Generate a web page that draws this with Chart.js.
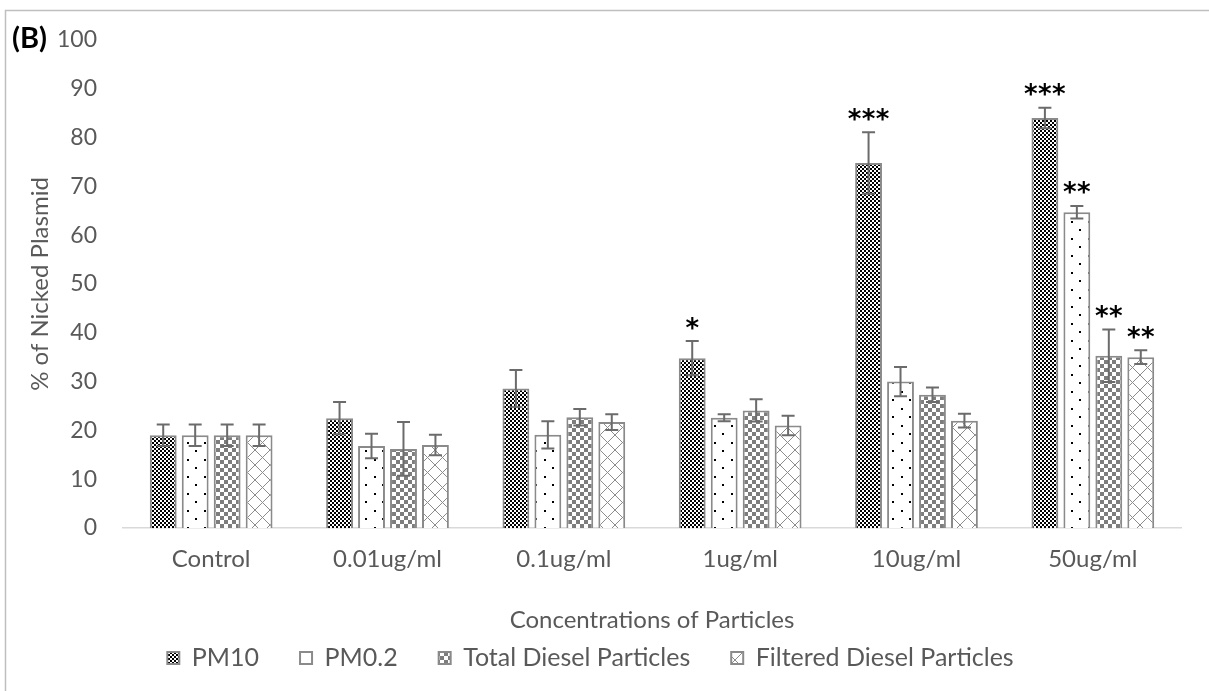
<!DOCTYPE html>
<html>
<head>
<meta charset="utf-8">
<script src="https://cdn.jsdelivr.net/npm/chart.js"></script>
<style>
  body { margin: 0; background: #fff; }
</style>
</head>
<body>
<canvas id="myChart" width="1209" height="691"></canvas>
<script>
// values
const categories = ['Control', '0.01ug/ml', '0.1ug/ml', '1ug/ml', '10ug/ml', '50ug/ml'];
const yTicks = [0, 10, 20, 30, 40, 50, 60, 70, 80, 90, 100];

const pm10 = [19, 22.5, 28.6, 34.8, 74.8, 84];
const pm10Err = [2.2, 3.3, 3.8, 3.5, 6.3, 2.1];
const pm10Stars = ['', '', '', '*', '***', '***'];

const pm02 = [19, 16.8, 19.1, 22.6, 30, 64.7];
const pm02Err = [2.2, 2.5, 2.8, 0.7, 3, 1.3];
const pm02Stars = ['', '', '', '', '', '**'];

const totalDiesel = [19, 16.2, 22.7, 24.1, 27.3, 35.3];
const totalDieselErr = [2.2, 5.5, 1.7, 2.3, 1.5, 5.4];
const totalDieselStars = ['', '', '', '', '', '**'];

const filteredDiesel = [19, 17, 21.7, 21, 22, 35];
const filteredDieselErr = [2.2, 2.1, 1.6, 2, 1.4, 1.4];
const filteredDieselStars = ['', '', '', '', '', '**'];

const textColor = '#595959';
const font = { family: 'Lato', size: 24 };
const tickFont = { family: 'Lato', size: 23 };
const legendFont = { family: 'Lato', size: 25 };

const ctx = document.getElementById('myChart').getContext('2d');

// fill patterns
function pattern(w, h, draw) {
  const c = document.createElement('canvas');
  c.width = w; c.height = h;
  const g = c.getContext('2d');
  g.fillStyle = '#fff';
  g.fillRect(0, 0, w, h);
  draw(g);
  return ctx.createPattern(c, 'repeat');
}

const checkerDark = pattern(4, 4, g => {
  g.fillStyle = '#000';
  g.fillRect(2, 0, 2, 2);
  g.fillRect(0, 2, 2, 2);
});
const dots = pattern(17, 17, g => {
  g.fillStyle = '#000';
  g.fillRect(0, 0, 2, 2);
  g.fillRect(8, 8, 2, 2);
});
const checkerGray = pattern(8, 8, g => {
  g.fillStyle = '#7d7d7d';
  g.fillRect(0, 0, 4, 4);
  g.fillRect(4, 4, 4, 4);
});
const diamonds = pattern(15, 15, g => {
  g.strokeStyle = '#8c8c8c';
  g.lineWidth = 1;
  g.beginPath();
  g.moveTo(0, 0); g.lineTo(15, 15);
  g.moveTo(15, 0); g.lineTo(0, 15);
  g.stroke();
});

// error bars + significance stars
const errorBars = {
  id: 'errorBars',
  afterDatasetsDraw(chart) {
    const c = chart.ctx, y = chart.scales.y;
    c.save();
    chart.data.datasets.forEach((ds, i) => {
      chart.getDatasetMeta(i).data.forEach((bar, j) => {
        const v = ds.data[j], e = ds.errors[j];
        const top = y.getPixelForValue(v + e), bot = y.getPixelForValue(v - e);
        c.strokeStyle = '#6b6b6b';
        c.lineWidth = 2;
        c.beginPath();
        c.moveTo(bar.x, top); c.lineTo(bar.x, bot);
        c.moveTo(bar.x - 6.5, top); c.lineTo(bar.x + 6.5, top);
        c.moveTo(bar.x - 6.5, bot); c.lineTo(bar.x + 6.5, bot);
        c.stroke();

        const s = ds.stars[j];
        if (s) {
          c.fillStyle = '#000';
          c.font = 'bold 26px "DejaVu Sans"';
          c.textAlign = 'center';
          c.textBaseline = 'alphabetic';
          const m = c.measureText('*');
          const mid = (m.actualBoundingBoxAscent - m.actualBoundingBoxDescent) / 2;
          const step = 14;
          const x0 = bar.x - (s.length - 1) * step / 2;
          for (let k = 0; k < s.length; k++) {
            c.fillText('*', x0 + k * step, top - 18 + mid);
          }
        }
      });
    });
    c.restore();
  }
};

const frame = {
  id: 'frame',
  afterDraw(chart) {
    const c = chart.ctx;
    c.save();
    c.strokeStyle = '#bfbfbf';
    c.lineWidth = 1.5;
    c.beginPath();
    c.moveTo(5.5, 691); c.lineTo(5.5, 10.5); c.lineTo(1209, 10.5);
    c.stroke();
    c.fillStyle = '#000';
    c.font = 'bold 29px Lato';
    c.textAlign = 'left';
    c.textBaseline = 'middle';
    c.fillText('(B)', 12, 39);
    c.restore();
  }
};

new Chart(ctx, {
  type: 'bar',
  data: {
    labels: categories,
    datasets: [
      { label: 'PM10', data: pm10, errors: pm10Err, stars: pm10Stars, backgroundColor: checkerDark },
      { label: 'PM0.2', data: pm02, errors: pm02Err, stars: pm02Stars, backgroundColor: dots },
      { label: 'Total Diesel Particles', data: totalDiesel, errors: totalDieselErr, stars: totalDieselStars, backgroundColor: checkerGray },
      { label: 'Filtered Diesel Particles', data: filteredDiesel, errors: filteredDieselErr, stars: filteredDieselStars, backgroundColor: diamonds }
    ].map(d => Object.assign(d, {
      borderColor: '#8a8a8a',
      borderWidth: 2,
      categoryPercentage: 0.725,
      barPercentage: 0.84
    }))
  },
  options: {
    responsive: false,
    animation: false,
    layout: { padding: { top: 40, right: 28, bottom: 10.5, left: 0 } },
    plugins: {
      legend: {
        position: 'bottom',
        labels: { boxWidth: 12, boxHeight: 12, padding: 41, color: textColor, font: legendFont }
      },
      tooltip: { enabled: false }
    },
    scales: {
      x: {
        grid: { display: false, drawTicks: false },
        border: { color: '#d9d9d9', width: 1.5 },
        ticks: { color: textColor, font: font, padding: 17 },
        title: { display: true, text: 'Concentrations of Particles', color: textColor, font: font, padding: { top: 0, bottom: -30 } },
        afterFit(s) { s.height = 76.5; }
      },
      y: {
        min: 0,
        max: 100,
        afterBuildTicks(s) { s.ticks = yTicks.map(v => ({ value: v })); },
        grid: { display: false, drawTicks: false },
        border: { display: false },
        ticks: { color: textColor, font: tickFont, padding: 26 },
        title: { display: true, text: '% of Nicked Plasmid', color: textColor, font: font, padding: { top: 26, bottom: 0 } },
        afterFit(s) { s.width = 123; }
      }
    }
  },
  plugins: [errorBars, frame]
});
</script>
</body>
</html>
